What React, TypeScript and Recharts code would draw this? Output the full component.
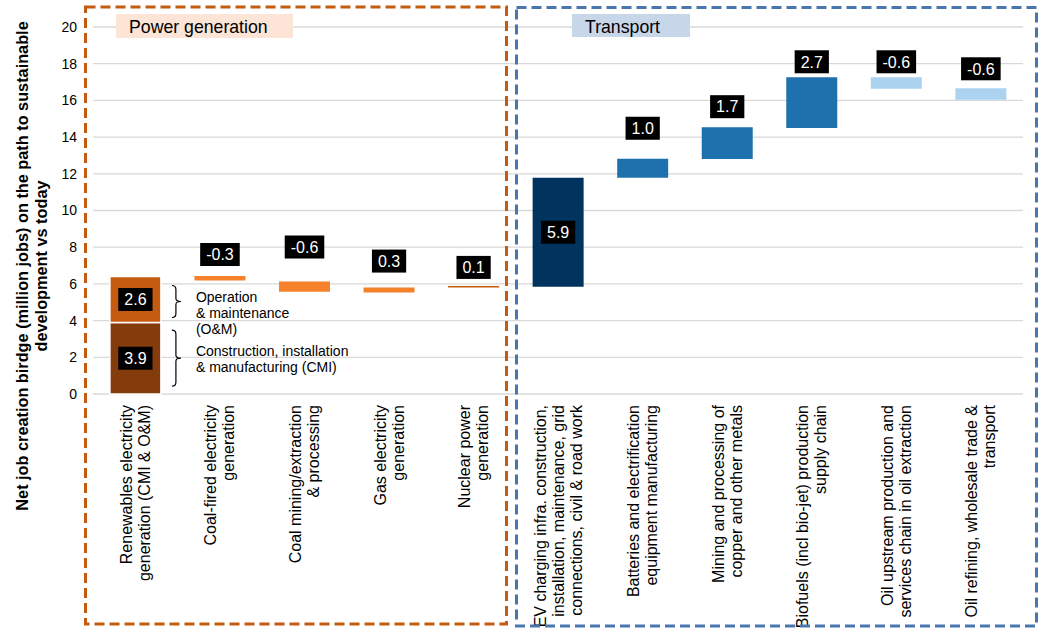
import React from "react";
import { BarChart, Bar, XAxis, YAxis, CartesianGrid, Cell, LabelList } from "recharts";

const FONT = "'Liberation Sans', Arial, sans-serif";

// category names, one entry per printed line
const categories: string[][] = [
  ["Renewables electricity", "generation (CMI & O&M)"],
  ["Coal-fired electricity", "generation"],
  ["Coal mining/extraction", "& processing"],
  ["Gas electricity", "generation"],
  ["Nuclear power", "generation"],
  ["EV charging infra. construction,", "installation, maintenance, grid", "connections, civil & road work"],
  ["Batteries and electrification", "equipment manufacturing"],
  ["Mining and processing of", "copper and other metals"],
  ["Biofuels (incl bio-jet) production", "supply chain"],
  ["Oil upstream production and", "services chain in oil extraction"],
  ["Oil refining, wholesale trade &", "transport"],
];

// floating bar bottoms / tops (million jobs)
const barBottom = [0, 6.18, 5.57, 5.53, 5.8, 5.85, 11.78, 12.8, 14.5, 16.63, 16.03];
const barTop = [3.9, 6.43, 6.13, 5.8, 5.89, 11.78, 12.82, 14.54, 17.26, 17.26, 16.66];
// O&M segment stacked on the renewables CMI bar
const omTop: (number | null)[] = [6.4, null, null, null, null, null, null, null, null, null, null];

const barLabels = ["3.9", "-0.3", "-0.6", "0.3", "0.1", "5.9", "1.0", "1.7", "2.7", "-0.6", "-0.6"];
const omLabels: (string | null)[] = ["2.6", null, null, null, null, null, null, null, null, null, null];

const yTicks = [0, 2, 4, 6, 8, 10, 12, 14, 16, 18, 20];

// styling
const barColors = ["#843C0C", "#F5822A", "#F5822A", "#F5822A", "#C55A11", "#00335E", "#1F71AE", "#1F71AE", "#1F71AE", "#ABD3EF", "#ABD3EF"];
const OM_COLOR = "#C55A11";
const labelInside = [true, false, false, false, false, true, false, false, false, false, false];
const labelGap = [0, 10, 23, 15, 7, 0, 19, 9, 4, 4, 8];

const rows = categories.map((lines, i) => ({
  name: lines.join("|"),
  key: String(i),
  base: barBottom[i],
  main: +(barTop[i] - barBottom[i]).toFixed(3),
  om: omTop[i] == null ? null : +((omTop[i] as number) - barTop[i]).toFixed(3),
}));

const textW = (s: string, fs: number) =>
  [...s].reduce((w, c) => w + (c === "." ? 0.278 : c === "-" ? 0.333 : 0.556) * fs, 0);

const ValueBox = ({ cx, cy, text }: { cx: number; cy: number; text: string }) => {
  const w = textW(text, 16) + 12;
  return (
    <g>
      <rect x={cx - w / 2} y={cy - 11.5} width={w} height={23} fill="#000" />
      <text x={cx} y={cy + 5.8} textAnchor="middle" fill="#fff" fontSize={16} fontFamily={FONT}>
        {text}
      </text>
    </g>
  );
};

const Brace = ({ x0, cy, half }: { x0: number; cy: number; half: number }) => (
  <path
    d={`M${x0},${cy - half} Q${x0 + 4},${cy - half} ${x0 + 4},${cy - half + 4} L${x0 + 4},${cy - 3} Q${x0 + 4},${cy} ${x0 + 9},${cy} Q${x0 + 4},${cy} ${x0 + 4},${cy + 3} L${x0 + 4},${cy + half - 4} Q${x0 + 4},${cy + half} ${x0},${cy + half}`}
    fill="none"
    stroke="#000"
    strokeWidth={1.2}
  />
);

const boxOf = (p: any) => {
  const vb = p.viewBox || {};
  return {
    x: Number(p.x ?? vb.x),
    y: Number(p.y ?? vb.y),
    w: Number(p.width ?? vb.width),
    h: Number(p.height ?? vb.height),
  };
};

const MainLabel = (p: any) => {
  const i = Number(p.value);
  const { x, y, w, h } = boxOf(p);
  const cx = x + w / 2;
  const cy = labelInside[i] ? y + h / 2 : y - labelGap[i] - 11.5;
  return (
    <g>
      <ValueBox cx={cx} cy={cy} text={barLabels[i]} />
      {i === 0 && (
        <g>
          <Brace x0={x + w + 11} cy={y + h / 2} half={28} />
          <text fontSize={14} fontFamily={FONT} fill="#000">
            <tspan x={x + w + 35} y={y + h / 2 - 2.5}>Construction, installation</tspan>
            <tspan x={x + w + 35} y={y + h / 2 + 14}>&amp; manufacturing (CMI)</tspan>
          </text>
        </g>
      )}
    </g>
  );
};

const OmLabel = (p: any) => {
  const i = Number(p.value);
  if (omLabels[i] == null) return null;
  const { x, y, w, h } = boxOf(p);
  const cy = y + h / 2;
  return (
    <g>
      <ValueBox cx={x + w / 2} cy={cy} text={omLabels[i] as string} />
      <Brace x0={x + w + 11} cy={cy + 2} half={16} />
      <text fontSize={14} fontFamily={FONT} fill="#000">
        <tspan x={x + w + 35} y={cy + 3}>Operation</tspan>
        <tspan x={x + w + 35} y={cy + 18.5}>&amp; maintenance</tspan>
        <tspan x={x + w + 35} y={cy + 35}>(O&amp;M)</tspan>
      </text>
    </g>
  );
};

const CategoryTick = (p: any) => {
  const lines = String(p.payload.value).split("|");
  const n = lines.length;
  return (
    <g transform={`translate(${p.x},${Number(p.y) + 11}) rotate(-90)`}>
      <text textAnchor="end" fontSize={16} fill="#000" fontFamily={FONT}>
        {lines.map((l, k) => (
          <tspan key={k} x={0} y={(k - (n - 1) / 2) * 18 + 5.6}>
            {l}
          </tspan>
        ))}
      </text>
    </g>
  );
};

const YTitle = () => (
  <g transform="translate(0,266)">
    <text transform="rotate(-90)" textAnchor="middle" fontSize={16.3} fontWeight="bold" fontFamily={FONT} fill="#000">
      <tspan x={0} y={28}>Net job creation birdge (million jobs) on the path to sustainable</tspan>
      <tspan x={0} y={46.5}>development vs today</tspan>
    </text>
  </g>
);

export default function App() {
  return (
    <div style={{ position: "absolute", left: 0, top: 0, width: 1042, height: 628, background: "#fff", fontFamily: FONT }}>
      <BarChart width={1042} height={628} data={rows} margin={{ top: 27, right: 19, left: 0, bottom: 0 }} barCategoryGap="20%">
        <CartesianGrid vertical={false} stroke="#d9d9d9" strokeWidth={1.3} />
        <XAxis
          dataKey="name"
          interval={0}
          axisLine={false}
          tickLine={false}
          tickSize={0}
          tickMargin={0}
          height={234}
          tick={<CategoryTick />}
        />
        <YAxis
          domain={[0, 20]}
          ticks={yTicks}
          axisLine={false}
          tickLine={false}
          tickSize={0}
          tickMargin={16}
          width={93}
          tick={{ fontSize: 14, fill: "#000", fontFamily: FONT }}
          label={{ content: () => <YTitle /> }}
        />
        <Bar dataKey="base" stackId="w" fill="#fff" fillOpacity={0} isAnimationActive={false} />
        <Bar dataKey="main" stackId="w" isAnimationActive={false}>
          {rows.map((r, i) => (
            <Cell key={r.key} fill={barColors[i]} stroke={i === 0 ? "#fff" : "none"} strokeWidth={i === 0 ? 1.5 : 0} />
          ))}
          <LabelList dataKey="key" content={<MainLabel />} />
        </Bar>
        <Bar dataKey="om" stackId="w" fill={OM_COLOR} stroke="#fff" strokeWidth={1.5} isAnimationActive={false}>
          <LabelList dataKey="key" content={<OmLabel />} />
        </Bar>
      </BarChart>
      <svg width={1042} height={628} style={{ position: "absolute", left: 0, top: 0, pointerEvents: "none" }}>
        <rect x={85.5} y={7} width={421} height={617} fill="none" stroke="#C55A11" strokeWidth={3} strokeDasharray="10 5" />
        <rect x={516.5} y={7.5} width={520} height={618.5} fill="none" stroke="#4A76AE" strokeWidth={3} strokeDasharray="10 5" />
        <rect x={116} y={14} width={177} height={24} fill="#FCE4D6" />
        <text x={129} y={33} fontSize={17.7} fontFamily={FONT} fill="#000">Power generation</text>
        <rect x={572} y={14} width={118} height={23} fill="#C8D6EA" />
        <text x={585} y={33} fontSize={17.7} fontFamily={FONT} fill="#000">Transport</text>
      </svg>
    </div>
  );
}
